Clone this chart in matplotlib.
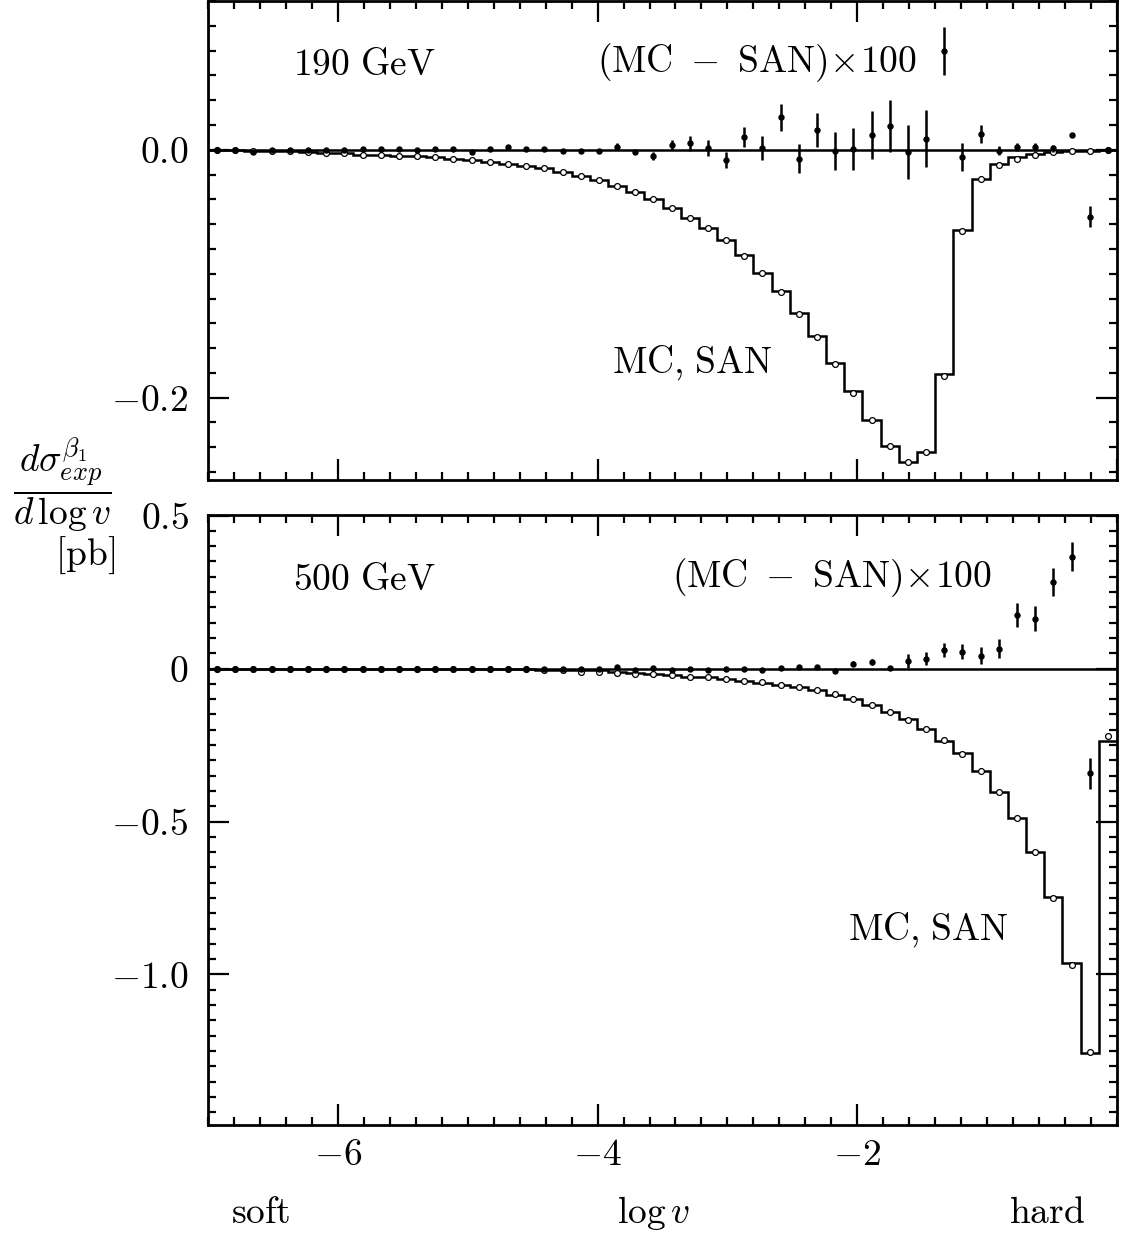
import numpy as np
import matplotlib
matplotlib.use('Agg')
import matplotlib.pyplot as plt
from matplotlib.ticker import MultipleLocator, FixedLocator, FixedFormatter

plt.rcParams['mathtext.fontset'] = 'cm'
plt.rcParams['font.family'] = 'serif'
plt.rcParams['font.serif'] = ['cmr10', 'DejaVu Serif']
plt.rcParams['axes.formatter.use_mathtext'] = True

# 50 bins in log v from -7 to 0
edges = np.linspace(-7.0, 0.0, 51)
centers = 0.5 * (edges[:-1] + edges[1:])

# ---- 190 GeV ----
mc_190 = [0.0, 0.0, -0.0008, -0.0011, -0.0010, -0.0019, -0.0024, -0.0025, -0.0040, -0.0041,
          -0.0048, -0.0048, -0.0062, -0.0073, -0.0083, -0.0097, -0.0113, -0.0129, -0.0151, -0.0180,
          -0.0213, -0.0247, -0.0293, -0.0344, -0.0398, -0.0467, -0.0548, -0.0629, -0.0731, -0.0855,
          -0.0992, -0.1148, -0.1325, -0.1508, -0.1726, -0.1960, -0.2180, -0.2390, -0.2515, -0.2435,
          -0.1823, -0.0652, -0.0239, -0.0121, -0.0072, -0.0040, -0.0016, -0.0008, -0.0008, 0.0]
san_190 = [0.0, 0.0, -0.0008, -0.0011, -0.0010, -0.0019, -0.0024, -0.0025, -0.0040, -0.0041,
           -0.0048, -0.0048, -0.0062, -0.0073, -0.0083, -0.0097, -0.0113, -0.0129, -0.0151, -0.0180,
           -0.0213, -0.0247, -0.0293, -0.0344, -0.0398, -0.0467, -0.0548, -0.0629, -0.0731, -0.0849,
           -0.0992, -0.1137, -0.1317, -0.1505, -0.1722, -0.1950, -0.2178, -0.2390, -0.2519, -0.2436,
           -0.1810, -0.0648, -0.0239, -0.0115, -0.0061, -0.0034, -0.0016, -0.0008, -0.0008, 0.0]
diff_190 = [0.0, 0.0, -0.0016, 0.0, 0.0, 0.0, 0.0, 0.0, 0.0005, 0.0005,
            0.0005, 0.0, 0.0005, 0.0005, -0.0022, 0.0005, 0.0024, 0.0005, 0.0008, -0.0011,
            -0.0011, -0.0010, 0.0024, -0.0019, -0.0051, 0.0035, 0.0051, 0.0011, -0.0083, 0.0105,
            0.0013, 0.0261, -0.0073, 0.0159, -0.0008, 0.0005, 0.0118, 0.0191, -0.0019, 0.0089,
            0.0796, -0.0056, 0.0126, -0.0008, 0.0022, 0.0022, 0.0011, 0.0121, -0.0540, 0.0]
err_190 = [0.0005, 0.0005, 0.0005, 0.0005, 0.0005, 0.0005, 0.0005, 0.0005, 0.0005, 0.0005,
           0.0005, 0.0005, 0.0005, 0.0005, 0.0010, 0.0010, 0.0010, 0.0010, 0.0010, 0.0010,
           0.0010, 0.0010, 0.0027, 0.0015, 0.0034, 0.0040, 0.0059, 0.0065, 0.0067, 0.0081,
           0.0097, 0.0108, 0.0116, 0.0134, 0.0153, 0.0169, 0.0191, 0.0207, 0.0220, 0.0228,
           0.0194, 0.0113, 0.0073, 0.0038, 0.0032, 0.0032, 0.0027, 0.0013, 0.0083, 0.0010]

# ---- 500 GeV ----
mc_500 = [0.0, 0.0, 0.0, 0.0, 0.0, 0.0, 0.0, 0.0, -0.0020, -0.0020,
          -0.0020, -0.0020, -0.0020, -0.0025, -0.0030, -0.0030, -0.0030, -0.0030, -0.0054, -0.0054,
          -0.0109, -0.0109, -0.0135, -0.0163, -0.0163, -0.0196, -0.0261, -0.0265, -0.0327, -0.0392,
          -0.0447, -0.0550, -0.0615, -0.0710, -0.0830, -0.1005, -0.1200, -0.1415, -0.1665, -0.1960,
          -0.2350, -0.2794, -0.3340, -0.4026, -0.4875, -0.5997, -0.7500, -0.9700, -1.2520, -0.2196]
san_500 = [0.0, 0.0, 0.0, 0.0, 0.0, 0.0, 0.0, 0.0, -0.0020, -0.0020,
           -0.0020, -0.0020, -0.0020, -0.0020, -0.0020, -0.0020, -0.0020, -0.0020, -0.0044, -0.0044,
           -0.0044, -0.0044, -0.0109, -0.0150, -0.0174, -0.0218, -0.0261, -0.0283, -0.0349, -0.0392,
           -0.0468, -0.0545, -0.0610, -0.0697, -0.0850, -0.0980, -0.1198, -0.1405, -0.1656, -0.1966,
           -0.2360, -0.2770, -0.3340, -0.4026, -0.4875, -0.5986, -0.7466, -0.9610, -1.2555, -0.2360]
diff_500 = [0.0, 0.0, 0.0, 0.0, 0.0, 0.0, 0.0, 0.0, 0.0, 0.0,
            0.0, 0.0, 0.0, 0.0, 0.0, 0.0, 0.0, 0.0, 0.0, 0.0,
            0.0, 0.0, 0.0040, -0.0040, 0.0020, -0.0040, 0.0, -0.0040, -0.0020, -0.0020,
            -0.0040, 0.0020, 0.0040, 0.0040, -0.0065, 0.0163, 0.0212, 0.0033, 0.0251, 0.0316,
            0.0610, 0.0545, 0.0425, 0.0654, 0.1754, 0.1634, 0.2832, 0.3660, -0.3426, np.nan]
err_500 = [0.001] * 22 + [0.002, 0.002, 0.002, 0.002, 0.002, 0.002, 0.003, 0.003,
                          0.003, 0.004, 0.004, 0.005, 0.006, 0.0087, 0.0087, 0.006, 0.0223, 0.0212,
                          0.0240, 0.0245, 0.0283, 0.0310, 0.0380, 0.0400, 0.0447, 0.0474, 0.0512, 0.0]

fig = plt.figure(figsize=(11.22, 12.36), dpi=100)
ax1 = fig.add_axes([208/1122, 1 - 480/1236, 909/1122, 479/1236])
ax2 = fig.add_axes([208/1122, 1 - 1125/1236, 909/1122, 610/1236])

FS = 27


def draw_panel(ax, san, mc, diff, err):
    ax.axhline(0, color='k', lw=1.8, zorder=2)
    ax.stairs(san, edges, baseline=None, color='k', lw=1.8, zorder=3)
    ax.plot(centers, mc, 'o', ms=4.2, mfc='white', mec='k', mew=0.9, zorder=4)
    ax.errorbar(centers, diff, yerr=err, fmt='o', ms=3.6, color='k',
                elinewidth=1.8, capsize=0, zorder=5)
    ax.set_xlim(-7.0, 0.0)
    ax.xaxis.set_major_locator(MultipleLocator(2))
    ax.xaxis.set_minor_locator(MultipleLocator(0.2))
    ax.tick_params(which='both', direction='in', top=True, right=True, width=1.6,
                   labelsize=FS)
    ax.tick_params(which='major', length=15)
    ax.tick_params(which='minor', length=6)
    ax.tick_params(axis='y', pad=14)
    ax.tick_params(axis='x', pad=10)
    for s in ax.spines.values():
        s.set_linewidth(2.0)


draw_panel(ax1, san_190, mc_190, diff_190, err_190)
ax1.set_ylim(-0.2664, 0.12)
ax1.yaxis.set_major_locator(FixedLocator([0.0, -0.2]))
ax1.yaxis.set_major_formatter(FixedFormatter([r'$0.0$', r'$-0.2$']))
ax1.yaxis.set_minor_locator(MultipleLocator(0.02))
ax1.tick_params(axis='x', labelbottom=False)

draw_panel(ax2, san_500, mc_500, diff_500, err_500)
ax2.set_ylim(-1.492, 0.502)
ax2.yaxis.set_major_locator(FixedLocator([0.5, 0.0, -0.5, -1.0]))
ax2.yaxis.set_major_formatter(FixedFormatter([r'$0.5$', r'$0$', r'$-0.5$', r'$-1.0$']))
ax2.yaxis.set_minor_locator(MultipleLocator(0.05))
ax2.xaxis.set_major_locator(FixedLocator([-6, -4, -2]))
ax2.xaxis.set_major_formatter(FixedFormatter([r'$-6$', r'$-4$', r'$-2$']))

diff_label = r'$(\mathrm{MC}\ -\ \mathrm{SAN})\!\times\!100$'
both_label = r'$\mathrm{MC{,}\ SAN}$'

# panel annotations
ax1.text(0.0935, 0.865, r'$\mathrm{190\ GeV}$', transform=ax1.transAxes,
         fontsize=FS, va='center', ha='left')
ax1.text(0.428, 0.871, diff_label, transform=ax1.transAxes,
         fontsize=FS, va='center', ha='left')
ax1.text(0.444, 0.246, both_label, transform=ax1.transAxes,
         fontsize=FS, va='center', ha='left')

ax2.text(0.0935, 0.893, r'$\mathrm{500\ GeV}$', transform=ax2.transAxes,
         fontsize=FS, va='center', ha='left')
ax2.text(0.510, 0.897, diff_label, transform=ax2.transAxes,
         fontsize=FS, va='center', ha='left')
ax2.text(0.704, 0.320, both_label, transform=ax2.transAxes,
         fontsize=FS, va='center', ha='left')

# axis labels
fig.text(0.0553, 0.6076, r'$\dfrac{d\sigma_{exp}^{\beta_1}}{d\,\log v}$',
         fontsize=FS, ha='center', va='center')
fig.text(0.0758, 0.551, r'$[\mathrm{pb}]$', fontsize=FS, ha='center', va='center')
fig.text(0.2326, 0.0186, r'$\mathrm{soft}$', fontsize=FS, ha='center', va='center')
fig.text(0.582, 0.0186, r'$\log v$', fontsize=FS, ha='center', va='center')
fig.text(0.933, 0.0186, r'$\mathrm{hard}$', fontsize=FS, ha='center', va='center')

fig.savefig('out.png', dpi=100)
